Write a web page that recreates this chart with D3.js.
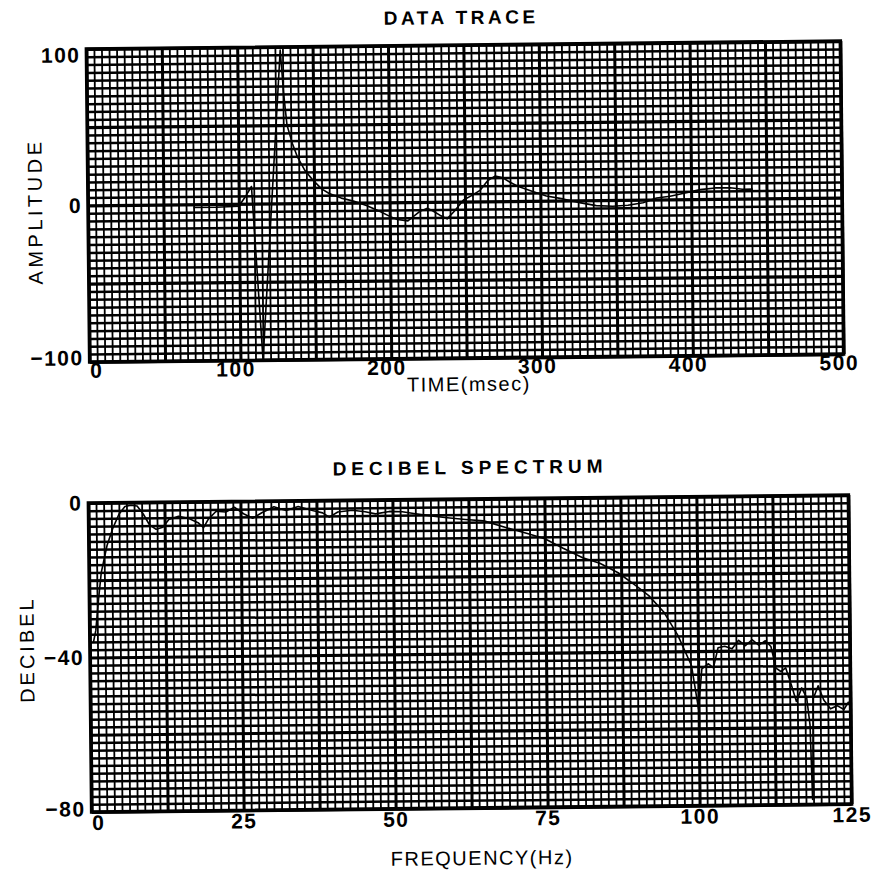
<!DOCTYPE html>
<html>
<head>
<script src="https://d3js.org/d3.v7.min.js"></script>
<style>
  body { margin: 0; background: #fff; }
  text { font-family: 'Liberation Sans', Arial, sans-serif; fill: #000; }
  .tick-label { font-size: 21px; font-weight: bold; letter-spacing: 1.5px; }
  .title { font-size: 19px; font-weight: bold; }
  .axis-title { font-size: 20px; }
  .grid path, .labels path { display: none; }
  .grid line { stroke: #000; }
</style>
</head>
<body>
<svg id="chart" width="879" height="884"></svg>
<script>
'use strict';

// data trace (time in msec, amplitude)
var traceTime = [70, 85, 100, 104, 108.5, 115, 128.5, 130.5, 132.5, 136, 139, 144, 149, 155, 160, 168, 176, 185,
  194, 200, 205, 212, 216, 220, 225, 229, 234, 238, 243, 249, 255, 260, 265, 270, 275, 280, 286, 295, 304, 315,
  326, 337, 348, 358, 368, 377, 386, 396, 406, 416, 426, 434, 441];
var traceAmp = [-2, -2, -1.5, 4, 11, -100, 98, 70, 50, 38, 30, 21, 15, 9, 6, 3, 1, -2,
  -6, -9, -11, -12, -9, -6, -4, -6, -9, -11, -6, 1, 4, 7, 13, 16, 15, 12, 9, 6, 3, 1,
  -1.5, -3.5, -4, -3.5, -2, 1, 2, 4, 6, 7, 7, 6, 6];
var timeTicks = [0, 100, 200, 300, 400, 500];
var timeTickLabels = ["0", "100", "200", "300", "400", "500"];
var ampTicks = [100, 0, -100];
var ampTickLabels = ["100", "0", "\u2212100"];

// decibel spectrum (frequency in Hz, dB)
var freq = [0.6, 1.0, 1.5, 2.0, 3.0, 4.0, 5.0, 6.0, 7.0, 8.0, 9.0, 10.0, 11.1, 12.2, 13.2, 14.8, 16.5, 18.0, 18.9,
  19.7, 21.0, 22.6, 24.0, 25.5, 27.0, 28.5, 30.5, 32.5, 34.5, 37.0, 38.5, 39.6, 41.0, 43.4, 45.5, 47.2, 49.5, 51.6,
  53.5, 56, 59, 62, 65, 68.6, 72, 75, 78, 81.2, 84, 87, 90, 92, 94.4, 96.7, 98.9, 100, 100.6, 101.7, 102.5, 103.3,
  104.4, 105.6, 106.7, 107.8, 108.9, 110, 111.1, 112, 112.8, 113.6, 114.4, 115.3, 116.1, 117, 117.8, 118.3, 118.6,
  118.9, 119.7, 120.6, 121.7, 122.8, 123.9, 124.7];
var decibel = [-36, -33, -25, -18, -11, -6.5, -3, -1, -0.7, -0.9, -3, -5.8, -7, -6.5, -4.5, -3.7, -4.3, -5.4, -6.7,
  -4.5, -2.5, -2.7, -1.5, -3.2, -4.4, -3, -1.5, -2.5, -1.5, -2.6, -3.2, -4.3, -3, -2.6, -3, -3.6, -3, -3.1,
  -3.6, -4.2, -4.8, -5.3, -5.7, -7.5, -9, -10.5, -13, -15.5, -17, -19.5, -23, -25.5, -29.7, -35.8, -43.7, -55, -44.6, -43.3, -44.4, -39.2,
  -38.8, -39.5, -37.3, -38.7, -37.2, -38.6, -37.5, -39, -44.6, -45.5, -44.6, -49, -53.3, -49.8, -52.4, -59.4, -78.7,
  -52.5, -49.3, -53, -55.3, -54.5, -55.5, -53.5];
var freqTicks = [0, 25, 50, 75, 100, 125];
var freqTickLabels = ["0", "25", "50", "75", "100", "125"];
var dbTicks = [0, -40, -80];
var dbTickLabels = ["0", "\u221240", "\u221280"];

var svg = d3.select("#chart");

function isMajor(v, step) {
  var r = v / step;
  return Math.abs(r - Math.round(r)) < 1e-6;
}

function panel(o) {
  var x = d3.scaleLinear().domain(o.xDomain).range([o.left, o.right]);
  var y = d3.scaleLinear().domain(o.yDomain).range([o.bottom, o.top]);
  var w = o.right - o.left, h = o.bottom - o.top;
  var cx = (o.left + o.right) / 2, cy = (o.top + o.bottom) / 2;

  var g = svg.append("g")
    .attr("transform", "rotate(" + o.angle + "," + cx + "," + cy + ")");

  // fine graph-paper grid, rows drawn a little heavier than columns
  g.append("g")
    .attr("class", "grid")
    .attr("transform", "translate(0," + o.bottom + ")")
    .call(d3.axisBottom(x)
      .tickValues(d3.range(0, 101).map(function(i) { return o.xDomain[0] + i * o.xStep; }))
      .tickSize(-h).tickFormat(""))
    .selectAll("line")
    .attr("stroke-width", function(d) { return isMajor(d - o.xDomain[0], o.xMajor) ? 3 : 1.8; });

  g.append("g")
    .attr("class", "grid")
    .attr("transform", "translate(" + o.left + ",0)")
    .call(d3.axisLeft(y)
      .tickValues(d3.range(0, 41).map(function(i) { return o.yDomain[0] + i * o.yStep; }))
      .tickSize(-w).tickFormat(""))
    .selectAll("line")
    .attr("stroke-width", function(d) { return isMajor(d - o.yDomain[0], o.yMajor) ? 3.2 : 2.5; });

  g.append("rect")
    .attr("x", o.left).attr("y", o.top)
    .attr("width", w).attr("height", h)
    .attr("fill", "none").attr("stroke", "#000").attr("stroke-width", 3.5);

  // curve
  var line = d3.line()
    .x(function(d) { return x(d[0]); })
    .y(function(d) { return y(d[1]); });

  g.append("path")
    .datum(d3.zip(o.xs, o.ys))
    .attr("d", line)
    .attr("fill", "none")
    .attr("stroke", "#000")
    .attr("stroke-width", 1.6)
    .attr("stroke-linejoin", "round");

  // tick labels
  var xl = g.append("g")
    .attr("class", "labels")
    .attr("transform", "translate(0," + o.bottom + ")")
    .call(d3.axisBottom(x).tickValues(o.xTicks).tickSize(0).tickPadding(o.xPad)
      .tickFormat(function(d, i) { return o.xLabels[i]; }));
  xl.selectAll("text").attr("class", "tick-label")
    .attr("dx", function(d, i) { return i === 0 ? 0 : o.xLabelDx; })
    .attr("text-anchor", function(d, i) { return i === 0 ? "start" : "middle"; });

  var yl = g.append("g")
    .attr("class", "labels")
    .attr("transform", "translate(" + o.left + ",0)")
    .call(d3.axisLeft(y).tickValues(o.yTicks).tickSize(0).tickPadding(6)
      .tickFormat(function(d, i) { return o.yLabels[i]; }));
  yl.selectAll("text").attr("class", "tick-label")
    .attr("y", function(d, i) { return o.yLabelDy[i]; });

  // titles
  g.append("text")
    .attr("class", "title")
    .attr("x", o.titleX).attr("y", o.titleY)
    .attr("text-anchor", "middle")
    .style("letter-spacing", o.titleSpacing)
    .text(o.title);

  g.append("text")
    .attr("class", "axis-title")
    .attr("x", o.xTitleX).attr("y", o.xTitleY)
    .attr("text-anchor", "middle")
    .style("letter-spacing", o.xTitleSpacing)
    .text(o.xTitle);

  g.append("text")
    .attr("class", "axis-title")
    .attr("transform", "translate(" + o.yTitleX + "," + o.yTitleY + ") rotate(-90)")
    .attr("text-anchor", "middle")
    .style("letter-spacing", o.yTitleSpacing)
    .text(o.yTitle);
}

panel({
  left: 88, right: 842, top: 45, bottom: 358, angle: -0.6,
  xDomain: [0, 500], yDomain: [-100, 100],
  xStep: 5, xMajor: 50, yStep: 5, yMajor: 50,
  xs: traceTime, ys: traceAmp,
  xTicks: timeTicks, xLabels: timeTickLabels, xPad: 1, xLabelDx: -5,
  yTicks: ampTicks, yLabels: ampTickLabels, yLabelDy: [6, 0, -4],
  title: "DATA TRACE", titleX: 463, titleY: 24, titleSpacing: "3.5px",
  xTitle: "TIME(msec)", xTitleX: 467, xTitleY: 391, xTitleSpacing: "1.5px",
  yTitle: "AMPLITUDE", yTitleX: 42, yTitleY: 207, yTitleSpacing: "3.5px"
});

panel({
  left: 90, right: 850, top: 499, bottom: 808, angle: -0.6,
  xDomain: [0, 125], yDomain: [-80, 0],
  xStep: 1.25, xMajor: 12.5, yStep: 2, yMajor: 20,
  xs: freq, ys: decibel,
  xTicks: freqTicks, xLabels: freqTickLabels, xPad: 3, xLabelDx: 0,
  yTicks: dbTicks, yLabels: dbTickLabels, yLabelDy: [0, 0, -3],
  title: "DECIBEL SPECTRUM", titleX: 472, titleY: 474, titleSpacing: "5px",
  xTitle: "FREQUENCY(Hz)", xTitleX: 480, xTitleY: 865, xTitleSpacing: "1.5px",
  yTitle: "DECIBEL", yTitleX: 34, yTitleY: 645, yTitleSpacing: "3px"
});
</script>
</body>
</html>
